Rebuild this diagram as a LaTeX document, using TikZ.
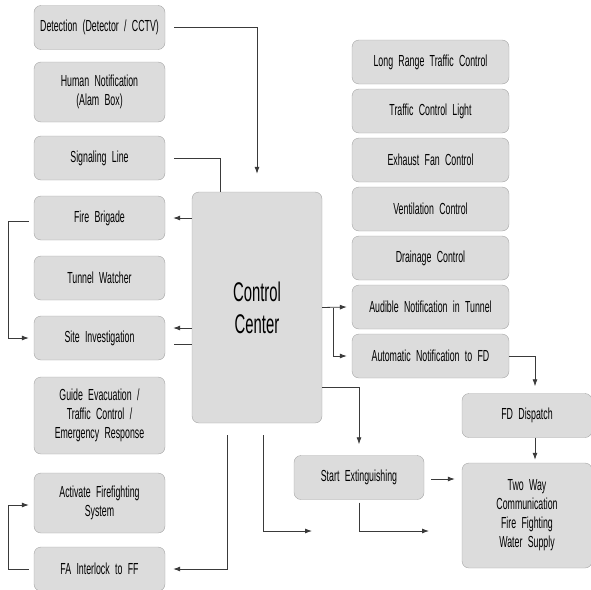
\documentclass[tikz,border=0pt]{standalone}
\usepackage{fontspec}
\setmainfont{Liberation Sans}[FakeStretch=0.55]
\usetikzlibrary{arrows.meta}

\definecolor{boxfill}{HTML}{DCDCDC}
\definecolor{boxline}{HTML}{A4A4A4}
\definecolor{linkgray}{HTML}{3A3A3A}

\protected\def\boxfont{\fontsize{16}{19}\selectfont\spaceskip=2.5pt plus 1pt\relax}

\begin{document}
\begin{tikzpicture}
	  [x=1pt, y=-1pt, node distance = 60pt,
	  %
	  box/.style={rectangle, draw=boxline, fill=boxfill, text width=131pt, minimum width=131pt, minimum height=44pt, inner sep=0pt, align=center, rounded corners=7pt, font=\boxfont},
	  %
	  rightbox/.style={box, text width=157pt, minimum width=157pt},
	  %
	  link/.style={draw=linkgray, line width=0.8pt},
	  %
	  linkarrow/.style={link, arrows={-Latex[length=7pt, width=5pt]}}]

	    \clip (0,0) rectangle (591,589);

	    % left column
	    \node [box] (detect) at (99.5,27.5) {Detection (Detector / CCTV)};
	    \node [box, below of=detect, yshift=-4.5pt, minimum height=60pt] (human) {Human Notification\\(Alam Box)};
	    \node [box, below of=human, yshift=-6pt] (signal) {Signaling Line};
	    \node [box, below of=signal] (brigade) {Fire Brigade};
	    \node [box, below of=brigade] (watcher) {Tunnel Watcher};
	    \node [box, below of=watcher] (site) {Site Investigation};
	    \node [box, below of=site, yshift=-17.5pt, minimum height=77pt] (guide) {Guide Evacuation /\\Traffic Control /\\Emergency Response};
	    \node [box, below of=guide, yshift=-27.5pt, minimum height=60pt] (activate) {Activate Firefighting\\System};
	    \node [box, below of=activate, yshift=-6pt] (interlock) {FA Interlock to FF};

	    % right column
	    \begin{scope}[node distance=49pt]
	    \node [rightbox] (longrange) at (430.5,62) {Long Range Traffic Control};
	    \node [rightbox, below of=longrange] (light) {Traffic Control Light};
	    \node [rightbox, below of=light] (exhaust) {Exhaust Fan Control};
	    \node [rightbox, below of=exhaust] (vent) {Ventilation Control};
	    \node [rightbox, below of=vent] (drain) {Drainage Control};
	    \node [rightbox, below of=drain] (audible) {Audible Notification in Tunnel};
	    \node [rightbox, below of=audible] (autofd) {Automatic Notification to FD};
	    \end{scope}

	    \node [box, text width=130pt, minimum width=130pt, minimum height=231pt, font=\fontsize{27}{32}\selectfont] (ctrl) at (257,307.5) {Control\\Center};
	    \node [box, text width=130pt, minimum width=130pt] (start) at (359,477.5) {Start Extinguishing};
	    \node [box, text width=130pt, minimum width=130pt] (fd) at (527,415.5) {FD Dispatch};
	    \node [box, text width=130pt, minimum width=130pt, minimum height=105pt] (twoway) at (527,515.5) {Two Way\\Communication\\Fire Fighting\\Water Supply};

	    \coordinate (free1) at (312,531);
	    \coordinate (free2) at (429,531);

	    \draw [linkarrow] ([xshift=9pt]detect.east) -| ([yshift=18pt]ctrl.north);
	    \draw [link] ([xshift=9pt]signal.east) -| ([xshift=-37pt]ctrl.north);
	    \draw [linkarrow] (ctrl.west |- brigade.east) -- ([xshift=8pt]brigade.east);
	    \draw [linkarrow] (ctrl.west |- 0,328) -- ([xshift=8pt, yshift=10pt]site.east);
	    \draw [link] ([xshift=9pt, yshift=-6pt]site.east) -- (ctrl.west |- 0,344);
	    \draw [linkarrow] ([xshift=-5pt, yshift=-3pt]brigade.west) -- ++(-20pt,0pt) |- ([xshift=-5pt]site.west);
	    \draw [linkarrow] ([xshift=-5pt]interlock.west) -- ++(-20pt,0pt) |- ([xshift=-5pt, yshift=-2pt]activate.west);
	    \draw [linkarrow] ([xshift=-30pt, yshift=-12pt]ctrl.south) |- ([xshift=8pt]interlock.east);
	    \draw [linkarrow] ([xshift=6pt, yshift=-12pt]ctrl.south) |- (free1);
	    \draw [linkarrow] ([yshift=-80pt]ctrl.east) -| ([yshift=11pt]start.north);
	    \draw [linkarrow] ([xshift=7pt, yshift=-1.5pt]start.east) -- ([xshift=-7pt, yshift=-1.5pt]twoway.west |- start.east);
	    \draw [linkarrow] ([yshift=-3pt]start.south) |- (free2);
	    \draw [linkarrow] (ctrl.east) -- ([xshift=-5pt]audible.west);
	    \draw [linkarrow] ([xshift=11pt]ctrl.east) |- ([xshift=-5pt]autofd.west);
	    \draw [linkarrow] (autofd.east) -| ([xshift=8pt, yshift=7pt]fd.north);
	    \draw [linkarrow] ([xshift=8pt]fd.south) -- ([xshift=8pt, yshift=3pt]twoway.north);
	  \end{tikzpicture}
\end{document}
